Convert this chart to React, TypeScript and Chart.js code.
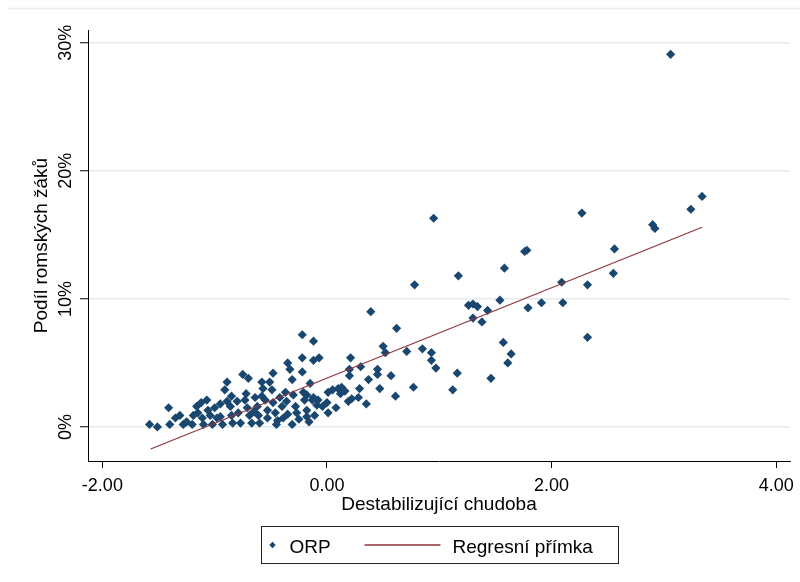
import React, { useEffect, useRef } from "react";
import { Chart, registerables } from "chart.js";

Chart.register(...registerables);

// ORP (municipalities with extended powers): x = destabilising poverty index, y = share of Roma pupils (%)
const orpX = [
  3.06, 3.34, 3.24, 2.27, 0.95, 2.90, 2.92, 2.56, 1.76, 1.78,
  1.58, 1.17, 2.55, 2.09, 2.32, 0.78, 1.26, 1.30, 1.34, 1.30,
  1.38, 1.43, 1.54, 1.79, 1.91, 2.10, 2.32, 1.57, 1.64, 1.61,
  1.46, 1.12, 1.16, 0.39, 0.62, 0.50, 0.52, 0.71, 0.85, 0.93,
  0.93, 0.97, 0.21, 0.20, 0.30, 0.20, 0.45, 0.45, 0.57, 0.37,
  0.47, 0.77, 0.29, 0.28, 0.19, 0.61, 0.01, 0.05, 0.10, 0.13,
  0.16, 0.12, 0.00, 0.01, -0.22, -0.12, -0.22, -0.12, -0.07,
  -1.58, -1.51, -1.41, -1.40, -1.35, -1.31, -1.28, -1.25, -1.20, -1.19,
  -1.16, -1.15, -1.11, -1.10, -1.07, -1.06, -1.04, -1.02, -1.00, -0.98,
  -0.95, -0.93, -0.91, -0.89, -0.89, -0.86, -0.85, -0.84, -0.80, -0.79,
  -0.77, -0.75, -0.73, -0.71, -0.70, -0.69, -0.67, -0.64, -0.62, -0.61,
  -0.60, -0.58, -0.57, -0.55, -0.53, -0.53, -0.51, -0.49, -0.48, -0.48,
  -0.46, -0.45, -0.42, -0.40, -0.39, -0.37, -0.36, -0.35, -0.33, -0.31,
  -0.31, -0.30, -0.28, -0.27, -0.22, -0.21, -0.20, -0.18, -0.15, -0.12,
  -0.11, -0.08, -0.04, -0.18, -0.13, -0.09, -0.18, -0.85, -0.65, -0.44,
  -0.25, -0.16, -0.95, -1.12, -0.72, -0.58, -0.35, 0.08, 0.22, 0.35,
];
const orpY = [
  29.1, 18.0, 17.0, 16.7, 16.3, 15.8, 15.5, 13.9, 13.7, 13.8,
  12.4, 11.8, 12.0, 11.3, 11.1, 11.1, 9.5, 9.6, 9.4, 8.5,
  8.2, 9.1, 9.9, 9.3, 9.7, 9.7, 7.0, 6.6, 5.7, 5.0,
  3.8, 2.9, 4.2, 9.0, 7.7, 6.3, 5.8, 5.9, 6.1, 5.8,
  5.2, 4.6, 5.4, 4.5, 4.7, 4.0, 4.5, 4.1, 4.0, 3.7,
  3.0, 3.1, 3.0, 2.3, 2.0, 2.4, 2.7, 2.9, 3.0, 3.1,
  2.8, 2.6, 1.9, 1.1, 7.2, 6.7, 5.4, 5.2, 5.4,
  0.2, 0.0, 1.5, 0.2, 0.7, 0.9, 0.2, 0.4, 0.2, 0.9,
  1.6, 1.1, 0.7, 0.2, 2.1, 1.3, 0.9, 0.2, 1.5, 0.7,
  0.8, 0.2, 2.9, 3.5, 2.0, 1.6, 0.9, 0.3, 2.0, 1.1,
  0.3, 4.1, 2.1, 1.5, 3.8, 0.9, 0.3, 2.3, 1.6, 0.9,
  0.3, 3.5, 3.0, 2.1, 1.3, 0.7, 3.5, 2.9, 4.2, 1.9,
  1.1, 0.2, 2.3, 1.6, 0.7, 2.7, 2.0, 5.0, 4.5, 3.7,
  0.2, 2.5, 1.6, 1.1, 4.3, 2.7, 2.1, 1.3, 3.4, 2.3,
  0.9, 2.1, 1.6, 2.5, 2.1, 1.7, 0.8, 2.4, 1.2, 0.5,
  0.6, 0.4, 1.8, 1.9, 2.6, 2.4, 1.0, 1.5, 2.2, 1.8,
];

// Regression line end points
const fitX = [-1.57, 3.34];
const fitY = [-1.72, 15.6];

const xTicks = [-2, 0, 2, 4];
const yTicks = [0, 10, 20, 30];
const seriesLabels = ["ORP", "Regresní přímka"];
const xTitle = "Destabilizující chudoba";
const yTitle = "Podíl romských žáků";

const FONT = "'Liberation Sans', Arial, sans-serif";
const NAVY = "#1a476f";
const MAROON = "#90353b";
const GRID = "#e3ebee";

export default function App() {
  const ref = useRef<HTMLCanvasElement>(null);

  useEffect(() => {
    const canvas = ref.current!;
    const points = orpX.map((x, i) => ({ x, y: orpY[i] }));
    const line = fitX.map((x, i) => ({ x, y: fitY[i] }));

    const decor = {
      id: "decor",
      afterDraw(chart: any) {
        const ctx = chart.ctx as CanvasRenderingContext2D;
        const ys = chart.scales.y;
        const area = chart.chartArea;
        ctx.save();
        // faint top frame line
        ctx.strokeStyle = GRID;
        ctx.lineWidth = 1.5;
        ctx.beginPath();
        ctx.moveTo(8, 8.5);
        ctx.lineTo(chart.width, 8.5);
        ctx.stroke();

        // rotated y tick labels
        ctx.fillStyle = "#000";
        ctx.font = `18px ${FONT}`;
        ctx.textAlign = "center";
        ctx.textBaseline = "alphabetic";
        yTicks.forEach((v) => {
          const py = ys.getPixelForValue(v);
          ctx.save();
          ctx.translate(area.left - 17.5, py);
          ctx.rotate(-Math.PI / 2);
          ctx.fillText(`${v}%`, 0, 0);
          ctx.restore();
        });

        // legend box
        const cx = (area.left + area.right) / 2;
        const bw = 357;
        const bh = 37;
        const bx = Math.round(cx - bw / 2) + 0.5;
        const by = area.bottom + 65.5;
        ctx.strokeStyle = "#222";
        ctx.lineWidth = 1;
        ctx.strokeRect(bx, by, bw, bh);
        const my = by + bh / 2;
        const base = my + 7.5;
        // diamond marker
        const dx = bx + 11;
        ctx.fillStyle = NAVY;
        ctx.beginPath();
        ctx.moveTo(dx - 3.2, my);
        ctx.lineTo(dx, my - 3.2);
        ctx.lineTo(dx + 3.2, my);
        ctx.lineTo(dx, my + 3.2);
        ctx.closePath();
        ctx.fill();
        ctx.fillStyle = "#000";
        ctx.font = `19px ${FONT}`;
        ctx.textAlign = "left";
        ctx.fillText(seriesLabels[0], bx + 28, base);
        // line marker
        ctx.strokeStyle = MAROON;
        ctx.lineWidth = 1.5;
        ctx.beginPath();
        ctx.moveTo(bx + 103, my);
        ctx.lineTo(bx + 179, my);
        ctx.stroke();
        ctx.fillText(seriesLabels[1], bx + 191, base);
        ctx.restore();
      },
    };

    const chart = new Chart(canvas, {
      type: "scatter",
      data: {
        datasets: [
          {
            label: seriesLabels[0],
            data: points,
            pointStyle: "rectRot",
            pointRadius: 4.6,
            pointBorderWidth: 0,
            backgroundColor: NAVY,
            borderColor: NAVY,
            order: 1,
          },
          {
            label: seriesLabels[1],
            data: line,
            showLine: true,
            borderColor: MAROON,
            borderWidth: 1.2,
            pointRadius: 0,
            fill: false,
            order: 0,
          },
        ],
      },
      options: {
        animation: false,
        responsive: false,
        maintainAspectRatio: false,
        layout: { padding: { left: 30.5, right: 10, top: 30, bottom: 65.9 } },
        plugins: {
          legend: { display: false },
          tooltip: { enabled: false },
        },
        scales: {
          x: {
            type: "linear",
            min: -2.128,
            max: 4.123,
            afterBuildTicks: (s: any) => {
              s.ticks = xTicks.map((v) => ({ value: v }));
            },
            afterFit: (s: any) => {
              s.height = 55.1;
              s.paddingLeft = 0;
              s.paddingRight = 0;
            },
            ticks: {
              font: { family: FONT, size: 18 },
              color: "#000",
              padding: 7,
              maxRotation: 0,
              autoSkip: false,
              callback: (v: any) => Number(v).toFixed(2),
            },
            grid: {
              drawOnChartArea: false,
              drawTicks: true,
              tickLength: 7,
              tickColor: "#000",
              tickWidth: 1,
            },
            border: { display: true, color: "#000", width: 1 },
            title: {
              display: true,
              text: xTitle,
              font: { family: FONT, size: 19 },
              color: "#000",
              padding: 0,
            },
          },
          y: {
            type: "linear",
            min: -2.66,
            max: 31.0,
            afterBuildTicks: (s: any) => {
              s.ticks = yTicks.map((v) => ({ value: v }));
            },
            afterFit: (s: any) => {
              s.width = 57.5;
              s.paddingTop = 0;
              s.paddingBottom = 0;
            },
            ticks: { display: false },
            grid: {
              color: GRID,
              lineWidth: 1.5,
              drawTicks: true,
              tickLength: 8,
              tickColor: "#000",
              tickWidth: 1,
            },
            border: { display: true, color: "#000", width: 1 },
            title: {
              display: true,
              text: yTitle,
              font: { family: FONT, size: 19 },
              color: "#000",
              padding: 0,
            },
          },
        },
      },
      plugins: [decor],
    } as any);

    return () => chart.destroy();
  }, []);

  return (
    <div style={{ position: "fixed", left: 0, top: 0, width: 800, height: 582, background: "#fff" }}>
      <canvas ref={ref} width={800} height={582} style={{ display: "block" }} />
    </div>
  );
}
